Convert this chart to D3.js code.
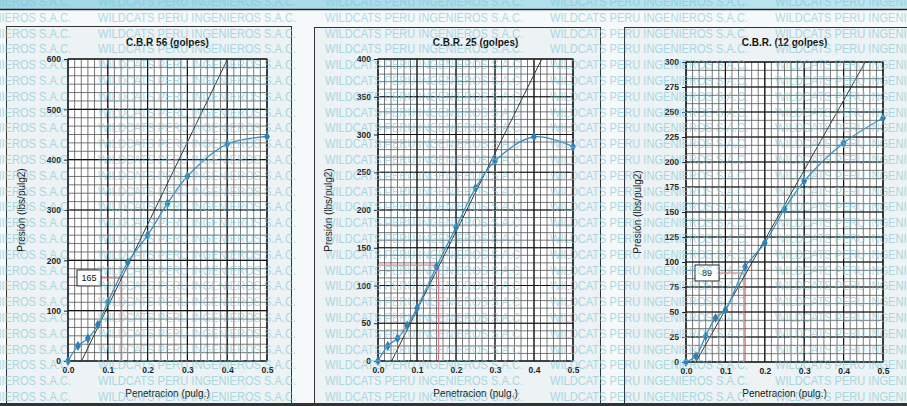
<!DOCTYPE html>
<html>
<head>
<meta charset="utf-8">
<script src="https://cdn.jsdelivr.net/npm/d3@7"></script>
<style>
  html, body { margin: 0; padding: 0; background: #f4f7f8; }
  svg { display: block; font-family: Arial, "Liberation Sans", sans-serif; }
</style>
</head>
<body>
<div id="chart"></div>
<script>
// data
const penetration = [0, 0.025, 0.05, 0.075, 0.1, 0.15, 0.2, 0.25, 0.3, 0.4, 0.5];
const pressure56 = [0, 30, 45, 72, 117, 196, 250, 313, 367, 431, 446];
const pressure25 = [0, 20, 30, 47, 70, 125, 177, 229, 265, 297, 284];
const pressure12 = [0, 6, 26, 44, 52, 95, 119, 153, 181, 219, 244];

const titles = ['C.B.R 56 (golpes)', 'C.B.R. 25 (golpes)', 'C.B.R. (12 golpes)'];
const yMax = [600, 400, 300];
const yStep = [100, 50, 25];
const yMinorPerMajor = [6, 5, 3];

// tangent (corrected) lines: [x at p=0, x at p=yMax]
const tangentX = [[0.034, 0.401], [0.035, 0.42], [0.025, 0.455]];
const correctedX = [0.135, 0.155, 0.147];
const correctedY = [165, 127, 89];
const correctedLabel = ['165', null, '89'];

const xTicks = [0, 0.1, 0.2, 0.3, 0.4, 0.5];
const watermark = 'WILDCATS PERU INGENIEROS S.A.C.';

const W = 907, H = 406;
const frames = [{x: 6, y: 26, w: 285}, {x: 314, y: 27, w: 286}, {x: 624, y: 27, w: 300}];
const plots = [
  {l: 68, r: 267, t: 59, b: 361, ylab: 22},
  {l: 378, r: 573, t: 59, b: 361, ylab: 329},
  {l: 686, r: 883, t: 62, b: 362, ylab: 638}
];
const series = [pressure56, pressure25, pressure12];

const svg = d3.select('#chart').append('svg')
  .attr('width', W).attr('height', H);

const defs = svg.append('defs');
const grad = defs.append('linearGradient').attr('id', 'band')
  .attr('x1', 0).attr('x2', 1).attr('y1', 0).attr('y2', 0);
grad.append('stop').attr('offset', '0%').attr('stop-color', '#9fd6e6');
grad.append('stop').attr('offset', '100%').attr('stop-color', '#bfe6f0');

svg.append('rect').attr('width', W).attr('height', H).attr('fill', '#f6f9fa');
svg.append('rect').attr('width', W).attr('height', 9).attr('fill', 'url(#band)');
svg.append('line').attr('x1', 0).attr('x2', W).attr('y1', 9.5).attr('y2', 9.5)
  .attr('stroke', '#222').attr('stroke-width', 1.5);

// panel frames
frames.forEach(f => {
  svg.append('rect')
    .attr('x', f.x + 0.5).attr('y', f.y + 0.5)
    .attr('width', f.w).attr('height', 403 - f.y)
    .attr('fill', '#edf2f4').attr('stroke', '#333').attr('stroke-width', 1);
});

const fmtX = d3.format('.1f');

plots.forEach((p, i) => {
  const x = d3.scaleLinear().domain([0, 0.5]).range([p.l, p.r]);
  const y = d3.scaleLinear().domain([0, yMax[i]]).range([p.b, p.t]);
  const g = svg.append('g');

  g.append('rect').attr('x', p.l).attr('y', p.t)
    .attr('width', p.r - p.l).attr('height', p.b - p.t).attr('fill', '#fff');

  // minor grid
  const xMinor = d3.range(0, 0.5 + 1e-9, 0.1 / 6);
  const yMinor = d3.range(0, yMax[i] + 1e-9, yStep[i] / yMinorPerMajor[i]);
  g.selectAll('.vminor').data(xMinor).enter().append('line')
    .attr('x1', d => x(d)).attr('x2', d => x(d))
    .attr('y1', p.t).attr('y2', p.b)
    .attr('stroke', '#555').attr('stroke-width', 0.8);
  g.selectAll('.hminor').data(yMinor).enter().append('line')
    .attr('x1', p.l).attr('x2', p.r)
    .attr('y1', d => y(d)).attr('y2', d => y(d))
    .attr('stroke', '#555').attr('stroke-width', 0.8);

  // major grid
  const yTicks = d3.range(0, yMax[i] + 1e-9, yStep[i]);
  g.selectAll('.vmajor').data(xTicks).enter().append('line')
    .attr('x1', d => x(d)).attr('x2', d => x(d))
    .attr('y1', p.t).attr('y2', p.b)
    .attr('stroke', '#111').attr('stroke-width', 1.2);
  g.selectAll('.hmajor').data(yTicks).enter().append('line')
    .attr('x1', p.l).attr('x2', p.r)
    .attr('y1', d => y(d)).attr('y2', d => y(d))
    .attr('stroke', '#111').attr('stroke-width', 1.2);

  g.append('rect').attr('x', p.l).attr('y', p.t)
    .attr('width', p.r - p.l).attr('height', p.b - p.t)
    .attr('fill', 'none').attr('stroke', '#222').attr('stroke-width', 1);

  // axes
  const yAxis = g.append('g').attr('transform', `translate(${p.l},0)`)
    .call(d3.axisLeft(y).tickValues(yTicks).tickSize(4).tickPadding(3));
  const xAxis = g.append('g').attr('transform', `translate(0,${p.b})`)
    .call(d3.axisBottom(x).tickValues(xTicks).tickFormat(fmtX).tickSize(0).tickPadding(6));
  [yAxis, xAxis].forEach(a => {
    a.select('.domain').remove();
    a.selectAll('line').attr('stroke', '#222');
    a.selectAll('text').attr('fill', '#222')
      .style('font-size', '8.5px').style('font-weight', 'bold')
      .style('font-family', 'Arial, "Liberation Sans", sans-serif');
  });

  // title and axis labels
  const cx = (p.l + p.r) / 2;
  g.append('text').attr('x', cx).attr('y', 46).attr('text-anchor', 'middle')
    .style('font-size', '10px').style('font-weight', 'bold').attr('fill', '#111')
    .text(titles[i]);
  g.append('text').attr('x', cx).attr('y', 397).attr('text-anchor', 'middle')
    .style('font-size', '10px').attr('fill', '#111')
    .text('Penetracion (pulg.)');
  g.append('text')
    .attr('transform', `translate(${p.ylab + 3},${(p.t + p.b) / 2}) rotate(-90)`)
    .attr('text-anchor', 'middle')
    .style('font-size', '10px').attr('fill', '#111')
    .text('Presión (lbs/pulg2)');

  // correction lines
  const labelW = 24, labelH = 16;
  const hx0 = correctedLabel[i] ? p.l + 9 + labelW : p.l;
  g.append('line').attr('x1', hx0).attr('x2', x(correctedX[i]))
    .attr('y1', y(correctedY[i])).attr('y2', y(correctedY[i]))
    .attr('stroke', '#e06a6a').attr('stroke-width', 1);
  g.append('line').attr('x1', x(correctedX[i])).attr('x2', x(correctedX[i]))
    .attr('y1', y(correctedY[i])).attr('y2', p.b)
    .attr('stroke', '#e06a6a').attr('stroke-width', 1);
  if (correctedLabel[i]) {
    g.append('rect').attr('x', p.l + 9).attr('y', y(correctedY[i]) - labelH / 2)
      .attr('width', labelW).attr('height', labelH)
      .attr('fill', '#fff').attr('stroke', '#222').attr('stroke-width', 1);
    g.append('text').attr('x', p.l + 9 + labelW / 2).attr('y', y(correctedY[i]) + 3)
      .attr('text-anchor', 'middle').style('font-size', '9px').attr('fill', '#111')
      .text(correctedLabel[i]);
  }

  // tangent line
  g.append('line')
    .attr('x1', x(tangentX[i][0])).attr('y1', y(0))
    .attr('x2', x(tangentX[i][1])).attr('y2', y(yMax[i]))
    .attr('stroke', '#333').attr('stroke-width', 1);

  // curve + diamond markers
  const pts = penetration.map((d, k) => [d, series[i][k]]);
  const line = d3.line().x(d => x(d[0])).y(d => y(d[1])).curve(d3.curveCatmullRom.alpha(0.5));
  g.append('path').datum(pts).attr('d', line)
    .attr('fill', 'none').attr('stroke', '#3b8fbf').attr('stroke-width', 1.3);
  g.selectAll('.pt').data(pts).enter().append('path')
    .attr('d', d3.symbol().type(d3.symbolDiamond).size(30))
    .attr('transform', d => `translate(${x(d[0])},${y(d[1])})`)
    .attr('fill', '#2f7fb3');
});

// watermark over everything
const wm = svg.append('g').attr('opacity', 0.6);
const rows = d3.range(0, 27);
const cols = [-127, 98, 325, 550, 775];
rows.forEach(r => {
  cols.forEach(c => {
    wm.append('text')
      .attr('x', c).attr('y', 6 + r * 15.8)
      .attr('textLength', 198).attr('lengthAdjust', 'spacingAndGlyphs')
      .style('font-size', '12.5px').attr('fill', '#7cc6d4')
      .text(watermark);
  });
});

svg.append('rect').attr('x', 0).attr('y', 403).attr('width', W).attr('height', 3).attr('fill', '#333');
</script>
</body>
</html>
